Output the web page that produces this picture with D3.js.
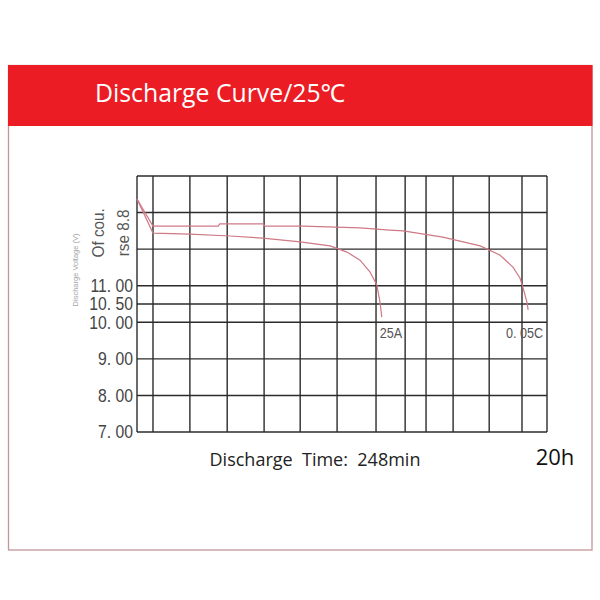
<!DOCTYPE html>
<html>
<head>
<meta charset="utf-8">
<script src="https://cdn.jsdelivr.net/npm/d3@7"></script>
<style>
  html, body { margin: 0; padding: 0; background: #fff; }
  svg { display: block; }
</style>
</head>
<body>
<svg id="chart" width="600" height="600"></svg>
<script>
// ---- data ----
const xGridValues = [0, 3.9, 12.9, 22.0, 31.0, 39.8, 48.8, 58.3, 65.4, 70.5, 77.1, 85.9, 93.9, 100];
const yGridValues = [14, 13, 12, 11, 10.5, 10, 9, 8, 7];
const yTickValues = [11, 10.5, 10, 9, 8, 7];
const yTickLabels = ["11. 00", "10. 50", "10. 00", "9. 00", "8. 00", "7. 00"];
const rotatedLabels = ["Of cou.", "rse 8.8"];

const seriesNames = ["0. 05C", "25A"];
const curve005C_x = [0, 3.9, 19.8, 20.2, 30.7, 31.2, 40.5, 54.4, 61.7, 64.9, 74.6, 83.7, 88.5, 91.7, 93.4, 94.1, 95.1, 95.4];
const curve005C_v = [13.37, 12.63, 12.63, 12.69, 12.69, 12.63, 12.63, 12.58, 12.52, 12.50, 12.33, 12.09, 11.84, 11.51, 11.21, 10.97, 10.55, 10.34];
const curve25A_x = [0, 3.9, 12.9, 22.7, 30.7, 39.8, 47.1, 51.2, 54.4, 56.8, 58.5, 59.3, 59.7];
const curve25A_v = [13.37, 12.44, 12.41, 12.36, 12.30, 12.20, 12.09, 11.92, 11.70, 11.38, 11.02, 10.53, 10.14];

const titleText = "Discharge Curve/25\u2103";
const yAxisTitle = "Discharge Voltage (V)";
const timeText = "Discharge  Time:  248min";
const rateText = "20h";

// ---- drawing ----
const svg = d3.select("#chart");

// panel
svg.append("rect").attr("x", 8.5).attr("y", 65.5).attr("width", 583.5).attr("height", 484.5)
  .attr("fill", "#fff").attr("stroke", "#c4959a").attr("stroke-width", 1.3);
svg.append("rect").attr("x", 8).attr("y", 65).attr("width", 584.5).attr("height", 61)
  .attr("fill", "#ec1c24");
svg.append("text").attr("x", 95).attr("y", 102)
  .attr("font-family", "'Open Sans', 'Noto Sans', sans-serif").attr("font-size", 24.8)
  .attr("fill", "#fff").text(titleText);

const x = d3.scaleLinear().domain([0, 100]).range([137, 547]);
const y = d3.scaleLinear().domain([7, 14]).range([432, 176]);

const grid = svg.append("g").attr("stroke", "#2b2b2b").attr("stroke-width", 1.4);
grid.selectAll("line.v").data(xGridValues).join("line").attr("class", "v")
  .attr("x1", d => x(d)).attr("x2", d => x(d)).attr("y1", y(14)).attr("y2", y(7));
grid.selectAll("line.h").data(yGridValues).join("line").attr("class", "h")
  .attr("x1", x(0)).attr("x2", x(100)).attr("y1", d => y(d)).attr("y2", d => y(d));

const narrow = "'Liberation Sans', Arial, sans-serif";

// y tick labels (horizontally condensed)
svg.append("g").selectAll("text").data(yTickValues).join("text")
  .attr("transform", d => `translate(133,${y(d)}) scale(0.9,1)`)
  .attr("dy", "0.36em")
  .attr("text-anchor", "end")
  .attr("font-family", narrow)
  .attr("font-size", 17.5).attr("fill", "#454545")
  .text((d, i) => yTickLabels[i]);

// rotated garbled labels
const rotX = [104, 129];
svg.append("g").selectAll("text").data(rotatedLabels).join("text")
  .attr("transform", (d, i) => `translate(${rotX[i]},${(y(12) + y(13)) / 2 + 2}) rotate(-90) scale(0.9,1)`)
  .attr("text-anchor", "middle")
  .attr("font-family", narrow)
  .attr("font-size", 17).attr("fill", "#555")
  .text(d => d);

svg.append("text")
  .attr("transform", `translate(78,${(y(11) + y(12.3)) / 2 + 8}) rotate(-90)`)
  .attr("text-anchor", "middle")
  .attr("font-family", narrow)
  .attr("font-size", 7.5).attr("fill", "#a5a5a5")
  .text(yAxisTitle);

// curves
const line = d3.line().x(d => x(d[0])).y(d => y(d[1]));
const s1 = curve005C_x.map((d, i) => [d, curve005C_v[i]]);
const s2 = curve25A_x.map((d, i) => [d, curve25A_v[i]]);
[s1, s2].forEach(s => {
  svg.append("path").datum(s).attr("d", line)
    .attr("fill", "none").attr("stroke", "#cf7886").attr("stroke-width", 1.2);
});

// series labels
const end1 = curve005C_x[curve005C_x.length - 1];
const end2 = curve25A_x[curve25A_x.length - 1];
svg.append("text").attr("transform", `translate(${x(end2) - 2},338) scale(0.9,1)`)
  .attr("font-family", narrow)
  .attr("font-size", 14).attr("fill", "#555").text(seriesNames[1]);
svg.append("text").attr("transform", `translate(${x(end1) + 15},338) scale(0.9,1)`).attr("text-anchor", "end")
  .attr("font-family", narrow)
  .attr("font-size", 14).attr("fill", "#555").text(seriesNames[0]);

// bottom texts
svg.append("text").attr("x", 315).attr("y", 466).attr("text-anchor", "middle")
  .attr("xml:space", "preserve").style("white-space", "pre")
  .attr("font-family", "'Open Sans', 'Noto Sans', sans-serif").attr("font-size", 18)
  .attr("fill", "#222").text(timeText);
svg.append("text").attr("x", 555).attr("y", 465).attr("text-anchor", "middle")
  .attr("font-family", "'Open Sans', 'Noto Sans', sans-serif").attr("font-size", 22)
  .attr("fill", "#111").text(rateText);
</script>
</body>
</html>
